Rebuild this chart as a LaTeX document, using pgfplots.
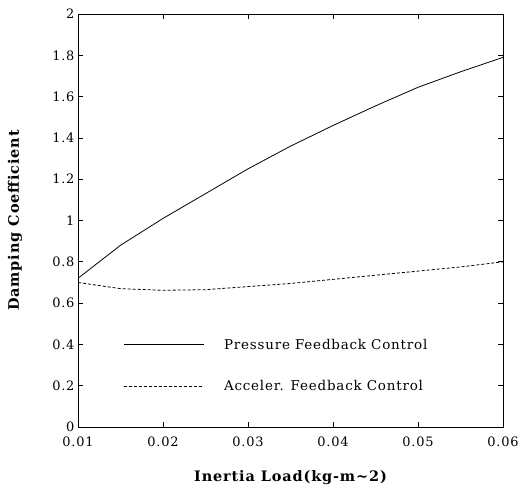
\documentclass[border=0pt]{standalone}
\usepackage{fontspec}
\setmainfont{DejaVu Serif}[LetterSpace=6]
\usepackage{pgfplots}
\pgfplotsset{compat=1.18}

\begin{document}
\begin{tikzpicture}[x=1bp,y=1bp]
\begin{axis}[
    at={(0bp,0bp)}, anchor=south west,
    scale only axis,
    width=425bp, height=413bp,
    xmin=0.01, xmax=0.06,
    ymin=0, ymax=2,
    xtick={0.01,0.02,...,0.06},
    ytick={0,0.2,...,2},
    scaled x ticks=false,
    xticklabels={0.01,0.02,0.03,0.04,0.05,0.06},
    yticklabels={0,0.2,0.4,0.6,0.8,1,1.2,1.4,1.6,1.8,2},
    tick align=inside,
    major tick length=5bp,
    tick style={black, line width=0.7pt},
    axis line style={line width=0.9pt},
    tick label style={font=\fontsize{13}{15}\selectfont},
    xticklabel style={yshift=-6bp},
    label style={font=\fontsize{14.5}{16}\selectfont\bfseries},
    xlabel={Inertia Load(kg-m\textasciitilde2)},
    ylabel={Damping Coefficient},
    xlabel style={at={(axis description cs:0.5,-0.123)}, anchor=center},
    ylabel style={at={(axis description cs:-0.148,0.5)}, anchor=center},
    legend style={
        at={(axis cs:0.0153,0.437)}, anchor=north west,
        draw=none, fill=none, inner sep=0pt,
        font=\fontsize{13.5}{15}\selectfont,
        row sep=26bp,
        /tikz/every odd column/.append style={column sep=18bp},
    },
    legend cell align=left,
    legend image code/.code={\draw[#1] (0bp,0bp) -- (80bp,0bp);},
]
\addplot[black, line width=0.8pt] coordinates {
 (0.010,0.72) (0.015,0.88) (0.020,1.01) (0.025,1.13) (0.030,1.25)
 (0.035,1.36) (0.040,1.46) (0.045,1.555) (0.050,1.645) (0.055,1.72) (0.060,1.79)};
\addlegendentry{Pressure Feedback Control}
\addplot[black, line width=0.8pt, dash pattern=on 3bp off 2bp] coordinates {
 (0.010,0.70) (0.015,0.67) (0.020,0.662) (0.025,0.665) (0.030,0.68)
 (0.035,0.695) (0.040,0.715) (0.045,0.735) (0.050,0.755) (0.055,0.775) (0.060,0.80)};
\addlegendentry{Acceler. Feedback Control}
\end{axis}
\path[use as bounding box] (-78bp,-64bp) rectangle (447bp,427bp);
\end{tikzpicture}
\end{document}
